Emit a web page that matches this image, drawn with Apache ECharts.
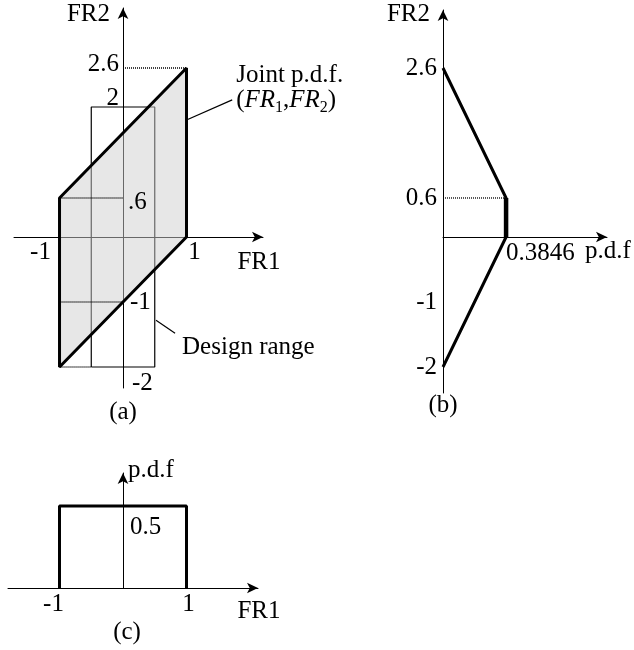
<!DOCTYPE html>
<html>
<head>
<meta charset="utf-8">
<script src="https://cdn.jsdelivr.net/npm/echarts@6/dist/echarts.min.js"></script>
<style>
  html, body { margin: 0; padding: 0; background: #fff; }
  #chart { width: 634px; height: 650px; }
</style>
</head>
<body>
<div id="chart"></div>
<script>
// (a) support of the joint p.d.f. of (FR1, FR2): parallelogram vertices
const jointFr1 = [-1, 1, 1, -1];
const jointFr2 = [-2, 0, 2.6, 0.6];
// design range box
const designFr1 = [-0.5, 0.5];
const designFr2 = [-2, 2];
// (b) marginal p.d.f. of FR2
const marginalFr2 = [-2, 0, 0.6, 2.6];
const marginalFr2Pdf = [0, 0.3846, 0.3846, 0];
// (c) marginal p.d.f. of FR1
const marginalFr1 = [-1, -1, 1, 1];
const marginalFr1Pdf = [0, 0.5, 0.5, 0];
// tick labels
const ticksA_fr2 = [2.6, 2, 0.6, -1, -2];
const ticksA_fr2Text = ['2.6', '2', '.6', '-1', '-2'];
const ticksA_fr1 = [-1, 1];
const ticksA_fr1Text = ['-1', '1'];
const ticksB_fr2 = [2.6, 0.6, -1, -2];
const ticksB_fr2Text = ['2.6', '0.6', '-1', '-2'];
const ticksB_pdf = [0.3846];
const ticksB_pdfText = ['0.3846'];
const ticksC_fr1 = [-1, 1];
const ticksC_fr1Text = ['-1', '1'];
const ticksC_pdf = [0.5];
const ticksC_pdfText = ['0.5'];
// leader lines for the annotations in (a)
const jointLeader = [[1, 1.8], [1.72, 2.11]];
const designLeader = [[0.52, -1.28], [0.82, -1.48]];

const FONT = '"Liberation Serif", "Times New Roman", serif';
const FS = 25;

const grids = [
  { left: 14, top: 8, width: 249, height: 380 },
  { left: 443, top: 10, width: 164, height: 383 },
  { left: 8, top: 473, width: 250, height: 115 }
];
const ranges = [
  { x: [-1.717, 2.205], y: [-2.323, 3.523] },
  { x: [0, 1], y: [-2.4, 3.492] },
  { x: [-1.811, 2.126], y: [0, 0.701] }
];

function axis(gridIndex, ext) {
  return {
    type: 'value', gridIndex: gridIndex, min: ext[0], max: ext[1],
    axisLine: {
      show: true, onZero: true,
      symbol: ['none', 'arrow'], symbolSize: [8, 11],
      lineStyle: { color: '#000', width: 1 }
    },
    axisTick: { show: false }, axisLabel: { show: false }, splitLine: { show: false }
  };
}

function seg(points, gi, style, z) {
  return {
    type: 'line', xAxisIndex: gi, yAxisIndex: gi, data: points,
    showSymbol: false, symbol: 'none', silent: true, animation: false,
    lineStyle: style, z: z
  };
}

const dotted = { color: '#000', width: 1.3, type: [1, 1] };
const thick = { color: '#000', width: 3, join: 'bevel' };
const heavy = { color: '#000', width: 4.5 };
const thin = { color: '#000', width: 1.2 };

const designBox = [
  [designFr1[0], designFr2[0]], [designFr1[1], designFr2[0]],
  [designFr1[1], designFr2[1]], [designFr1[0], designFr2[1]],
  [designFr1[0], designFr2[0]]
];

const series = [
  // design range box (drawn under the translucent joint p.d.f. region)
  seg(designBox, 0, thin, 1),
  // joint p.d.f. region
  {
    type: 'custom', xAxisIndex: 0, yAxisIndex: 0, silent: true, animation: false, z: 2,
    data: [jointFr1.concat(jointFr2)],
    encode: { x: [0, 1, 2, 3], y: [4, 5, 6, 7] },
    renderItem: function (params, api) {
      const pts = [];
      for (let i = 0; i < 4; i++) pts.push(api.coord([api.value(i), api.value(4 + i)]));
      return {
        type: 'polygon', shape: { points: pts },
        style: { fill: 'rgba(208,208,208,0.5)', stroke: '#000', lineWidth: 3, lineJoin: 'bevel' }
      };
    }
  },
  // guide lines in (a)
  seg([[0, jointFr2[2]], [jointFr1[2], jointFr2[2]]], 0, dotted, 3),
  seg([[jointFr1[3], jointFr2[3]], [0, jointFr2[3]]], 0, dotted, 3),
  seg([[jointFr1[0], -1], [0, -1]], 0, dotted, 3),
  seg([[jointFr1[0], jointFr2[0]], [designFr1[0], jointFr2[0]]], 0, dotted, 3),
  // leaders
  seg(jointLeader, 0, thin, 3),
  seg(designLeader, 0, thin, 3),
  // (b) marginal of FR2, with the flat top drawn heavier
  seg(marginalFr2.map((v, i) => [marginalFr2Pdf[i], v]), 1, thick, 3),
  seg([[marginalFr2Pdf[1], marginalFr2[1]], [marginalFr2Pdf[2], marginalFr2[2]]], 1, heavy, 4),
  seg([[0, marginalFr2[2]], [marginalFr2Pdf[2], marginalFr2[2]]], 1, dotted, 3),
  // (c) marginal of FR1
  seg(marginalFr1.map((v, i) => [v, marginalFr1Pdf[i]]), 2, thick, 3)
];

const chart = echarts.init(document.getElementById('chart'));
chart.setOption({
  animation: false,
  backgroundColor: '#fff',
  grid: grids,
  xAxis: ranges.map((r, i) => axis(i, r.x)),
  yAxis: ranges.map((r, i) => axis(i, r.y)),
  series: series
});

// text placed from data anchors through each grid's scales
function txt(gi, x, y, text, dx, dy, align, extra) {
  const p = chart.convertToPixel({ gridIndex: gi }, [x, y]);
  const style = Object.assign({
    text: text, fill: '#000', fontFamily: FONT, fontSize: FS,
    align: align || 'center', verticalAlign: 'middle'
  }, extra || {});
  return { type: 'text', x: p[0] + dx, y: p[1] + dy, style: style, silent: true, z: 10 };
}

const g = [];
const rA = ranges[0], rB = ranges[1], rC = ranges[2];
// (a)
g.push(txt(0, 0, rA.y[1], 'FR2', -13, 6, 'right'));
const offA = [[-4, -4, 'right'], [-4, -9, 'right'], [5, 4, 'left'], [7, 0, 'left'], [9, 16, 'left']];
ticksA_fr2.forEach((v, i) => g.push(txt(0, 0, v, ticksA_fr2Text[i], offA[i][0], offA[i][1], offA[i][2])));
const offA1 = [[-19, 15], [8, 15]];
ticksA_fr1.forEach((v, i) => g.push(txt(0, v, 0, ticksA_fr1Text[i], offA1[i][0], offA1[i][1], 'center')));
g.push(txt(0, rA.x[1], 0, 'FR1', -4, 25, 'center'));
g.push(txt(0, 0, rA.y[0], '(a)', 0, 24, 'center'));
g.push(txt(0, jointLeader[1][0], jointLeader[1][1], 'Joint p.d.f.', 4, -24, 'left'));
g.push(txt(0, jointLeader[1][0], jointLeader[1][1], '({i|FR}{s|1},{i|FR}{s|2})', 4, 1, 'left', {
  rich: {
    i: { fontStyle: 'italic', fontFamily: FONT, fontSize: FS, lineHeight: 30, verticalAlign: 'middle' },
    s: { fontFamily: FONT, fontSize: 16, lineHeight: 30, verticalAlign: 'bottom' }
  },
  lineHeight: 30
}));
g.push(txt(0, designLeader[1][0], designLeader[1][1], 'Design range', 7, 14, 'left'));
// (b)
g.push(txt(1, 0, rB.y[1], 'FR2', -13, 4, 'right'));
ticksB_fr2.forEach((v, i) => g.push(txt(1, 0, v, ticksB_fr2Text[i], -6, 0, 'right')));
ticksB_pdf.forEach((v, i) => g.push(txt(1, v, 0, ticksB_pdfText[i], 0, 16, 'left')));
g.push(txt(1, rB.x[1], 0, 'p.d.f', -22, 14, 'left'));
g.push(txt(1, 0, rB.y[0], '(b)', 0, 12, 'center'));
// (c)
g.push(txt(2, 0, rC.y[1], 'p.d.f', 5, -3, 'left'));
ticksC_pdf.forEach((v, i) => g.push(txt(2, 0, v, ticksC_pdfText[i], 7, 21, 'left')));
const offC1 = [[-6, 16], [2, 16]];
ticksC_fr1.forEach((v, i) => g.push(txt(2, v, 0, ticksC_fr1Text[i], offC1[i][0], offC1[i][1], 'center')));
g.push(txt(2, rC.x[1], 0, 'FR1', 1, 23, 'center'));
g.push(txt(2, 0, 0, '(c)', 4, 44, 'center'));

chart.setOption({ graphic: g });
</script>
</body>
</html>
